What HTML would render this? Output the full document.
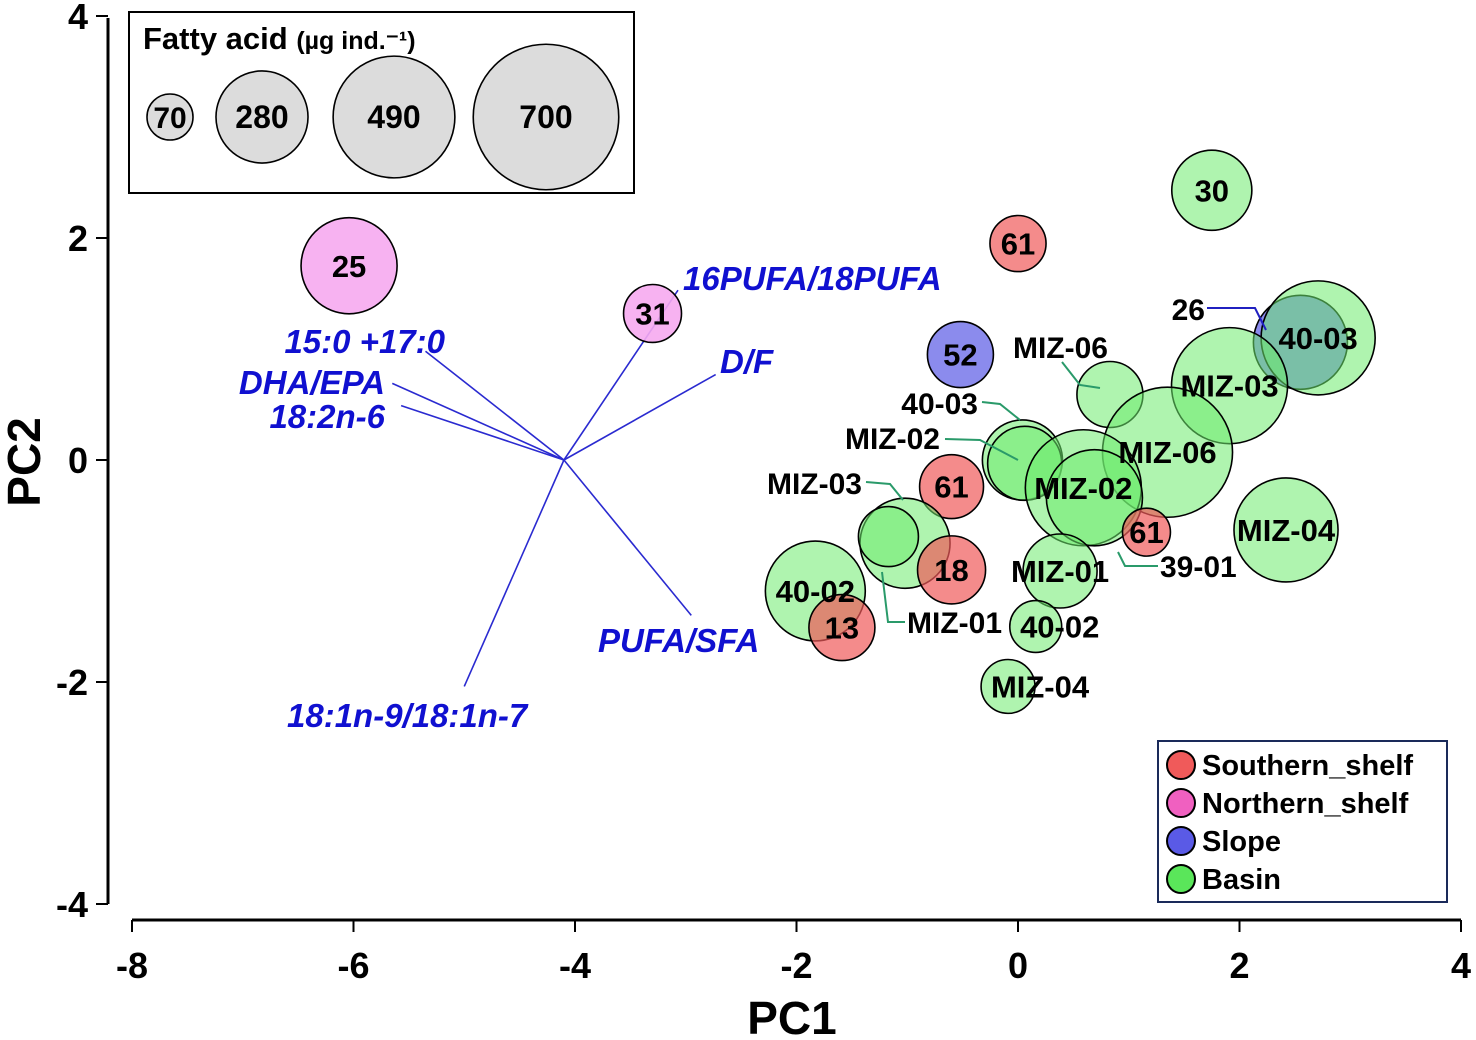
<!DOCTYPE html>
<html><head><meta charset="utf-8"><style>
html,body{margin:0;padding:0;background:#fff;}
svg{display:block;font-family:"Liberation Sans",Arial,sans-serif;}
</style></head><body>
<svg id="chart" width="1476" height="1040" viewBox="0 0 1476 1040" xmlns="http://www.w3.org/2000/svg"></svg>
<script>
// ---- data ----
const xTicks = [-8,-6,-4,-2,0,2,4];
const yTicks = [4,2,0,-2,-4];
const pointLabels = ["25","31","61","30","52","26","40-03","MIZ-03","MIZ-06","MIZ-06","40-03","MIZ-02","MIZ-02","MIZ-02","61","61","MIZ-04","MIZ-01","40-02","MIZ-04","MIZ-03","MIZ-01","18","40-02","13"];
const pointGroups = ["N","N","S","B","L","L","B","B","B","B","B","B","B","B","S","S","B","B","B","B","B","B","S","B","S"];
const pc1 = [-6.04,-3.30,0.00,1.75,-0.52,2.55,2.71,1.91,0.83,1.35,0.04,0.06,0.59,0.69,-0.60,1.16,2.42,0.38,0.16,-0.09,-1.02,-1.17,-0.60,-1.83,-1.59];
const pc2 = [1.75,1.32,1.95,2.43,0.95,1.06,1.10,0.67,0.59,0.07,0.00,-0.03,-0.25,-0.34,-0.24,-0.65,-0.63,-1.00,-1.50,-2.04,-0.75,-0.69,-0.99,-1.18,-1.51];
const fattyAcid = [305,111,104,212,144,292,430,445,144,559,212,181,445,305,135,76,358,181,89,96,268,119,153,330,144];
const vecNames = ["15:0  +17:0","DHA/EPA","18:2n-6","16PUFA/18PUFA","D/F","PUFA/SFA","18:1n-9/18:1n-7"];
const vecX = [-1.25,-1.55,-1.47,1.03,1.37,1.15,-0.90];
const vecY = [0.98,0.69,0.49,1.53,0.77,-1.40,-2.04];
const sizeLegend = [70,280,490,700];
const groupNames = ["Southern_shelf","Northern_shelf","Slope","Basin"];

// ---- scales ----
const X = v => 1018 + v*110.75;
const Y = v => 460 - v*111;
const R = v => 2.75*Math.sqrt(v);
const NS="http://www.w3.org/2000/svg";
const svg=document.getElementById('chart');
function mk(tag,attrs,parent){const e=document.createElementNS(NS,tag);for(const k in attrs)e.setAttribute(k,attrs[k]);(parent||svg).appendChild(e);return e;}
const fills={S:"rgba(240,90,90,0.7)",N:"rgba(246,170,240,0.9)",L:"rgba(90,90,230,0.7)",B:"rgba(110,235,110,0.55)"};
const inside=[1,1,1,1,1,0,1,1,0,1,0,0,1,0,1,1,1,1,1,1,0,0,1,1,1];
const inDx=[0,0,0,0,0,0,0,0,0,0,0,0,0,0,0,0,0,0,24,32,0,0,0,0,0];

// axes
mk('line',{x1:108,y1:18,x2:108,y2:904,stroke:'#000','stroke-width':3,});
mk('line',{x1:132,y1:920,x2:1461,y2:920,stroke:'#000','stroke-width':3,});
xTicks.forEach(t=>{
  const l=mk('line',{x1:X(t),y1:920,x2:X(t),y2:932,stroke:'#000','stroke-width':2});
  
  
  const tx=mk('text',{x:X(t),y:978,'font-size':36,'font-weight':'bold','text-anchor':'middle'});
  tx.textContent=t;
  
  
});
yTicks.forEach(t=>{
  const l=mk('line',{x1:96,y1:Y(t),x2:108,y2:Y(t),stroke:'#000','stroke-width':2});
  
  
  const tx=mk('text',{x:88,y:Y(t)+13,'font-size':36,'font-weight':'bold','text-anchor':'end'});
  tx.textContent=t;
  
  
});
let t1=mk('text',{x:792,y:1034,'font-size':46,'font-weight':'bold','text-anchor':'middle',});t1.textContent='PC1';
let t2=mk('text',{x:0,y:0,'font-size':46,'font-weight':'bold','text-anchor':'middle',transform:'translate(40,462) rotate(-90)',});t2.textContent='PC2';

// vectors
const ox=X(-4.1), oy=Y(0);
const vecLab=[[445,353,'end'],[385,394,'end'],[385,428,'end'],[683,290,'start'],[720,373,'start'],[598,652,'start'],[287,727,'start']];
vecNames.forEach((n,i)=>{
  const l=mk('line',{x1:ox,y1:oy,x2:X(-4.1+vecX[i]),y2:Y(vecY[i]),stroke:'#2a2ad0','stroke-width':1.6});
  
  
  const t=mk('text',{x:vecLab[i][0],y:vecLab[i][1],'font-size':33,'font-weight':'bold','font-style':'italic',fill:'#1010d0','text-anchor':vecLab[i][2]});
  t.textContent=n;
  
  
});

// points
pc1.forEach((v,i)=>{
  const c=mk('circle',{cx:X(v),cy:Y(pc2[i]),r:R(fattyAcid[i]),fill:fills[pointGroups[i]],stroke:'#000','stroke-width':1.6});
  
  
});
pc1.forEach((v,i)=>{
  if(!inside[i])return;
  const t=mk('text',{x:X(v)+inDx[i],y:Y(pc2[i])+11,'font-size':31,'font-weight':'bold','text-anchor':'middle'});
  t.textContent=pointLabels[i];
  
  
});
// external labels with leaders
const ext=[["26",1205,320,"end","#2020c0","1207,308 1255,308 1266,330"],
["MIZ-06",1108,358,"end","#2a9a6a","1062,362 1080,385 1100,388"],
["40-03",978,414,"end","#2a9a6a","982,402 1000,404 1020,420"],
["MIZ-02",940,449,"end","#2a9a6a","945,439 980,440 1018,460"],
["MIZ-03",862,494,"end","#2a9a6a","866,482 890,484 903,500"],
["MIZ-01",907,633,"start","#2a9a6a","905,622 888,622 882,572"],
["39-01",1160,577,"start","#2a9a6a","1158,566 1125,566 1118,552"]];
ext.forEach(e=>{
  const p=mk('polyline',{points:e[5],fill:'none',stroke:e[4],'stroke-width':2});
  
  
  const t=mk('text',{x:e[1],y:e[2],'font-size':30,'font-weight':'bold','text-anchor':e[3]});
  t.textContent=e[0];
  
  
});

// size legend
const sl=mk('g',{});
mk('rect',{x:129,y:12,width:505,height:181,fill:'#fff',stroke:'#000','stroke-width':2},sl);
let st=mk('text',{x:143,y:49,'font-size':31,'font-weight':'bold'},sl);st.innerHTML='Fatty acid <tspan font-size="25">(µg ind.⁻¹)</tspan>';


const slx=[170,262,394,546];
sizeLegend.forEach((v,i)=>{
  const c=mk('circle',{cx:slx[i],cy:117,r:R(v),fill:'#dcdcdc',stroke:'#000','stroke-width':1.6},sl);
  
  
  const t=mk('text',{x:slx[i],y:128,'font-size':v==70?30:32,'font-weight':'bold','text-anchor':'middle'},sl);
  t.textContent=v;
  
  
});

// group legend
const gl=mk('g',{});
mk('rect',{x:1158,y:741,width:289,height:161,fill:'#fff',stroke:'#1a2a5a','stroke-width':2},gl);
const lfill=["#f05a5a","#f060c0","#5a5ae6","#5ae65a"];
groupNames.forEach((n,i)=>{
  const y=765+i*38;
  const c=mk('circle',{cx:1181,cy:y,r:14,fill:lfill[i],stroke:'#000','stroke-width':2},gl);
  
  
  const t=mk('text',{x:1202,y:y+10,'font-size':29,'font-weight':'bold'},gl);
  t.textContent=n;
  
  
});
</script>
</body></html>
